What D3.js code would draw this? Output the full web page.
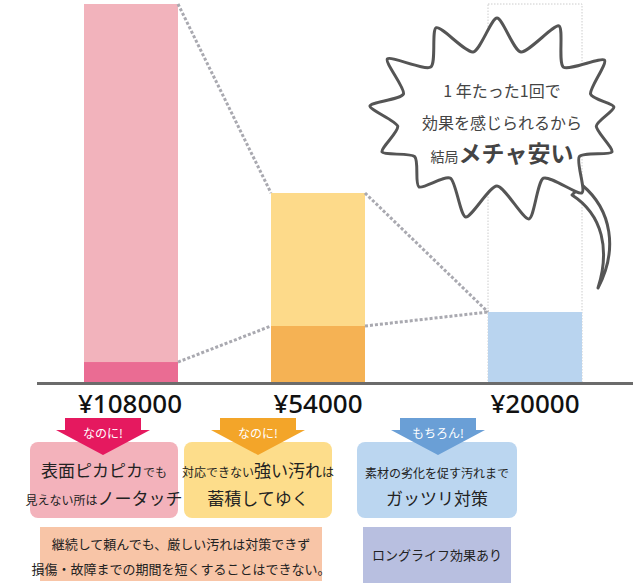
<!DOCTYPE html>
<html><head><meta charset="utf-8">
<script src="https://cdn.jsdelivr.net/npm/d3@7"></script>
<style>
body{margin:0;background:#fff;font-family:"Noto Sans CJK JP",sans-serif;}
</style></head><body><div id="chart"></div>
<script>
const prices = ['¥108000', '¥54000', '¥20000'];
const totals = [108000, 54000, 20000];
const lowerParts = [5700, 16000, 0];
const barColors = ['#f2b3bc', '#fdda8a', '#b9d4ef'];
const lowerColors = ['#ea6c93', '#f5b254', '#b9d4ef'];
const arrowLabels = ['なのに!', 'なのに!', 'もちろん!'];
const arrowColors = ['#e5195f', '#f3a529', '#6a9fd6'];
const boxColors = ['#f3b2bb', '#fddd8b', '#bbd6f0'];

const width = 640, height = 588;
const base = 382;
const svg = d3.select('#chart').append('svg').attr('width', width).attr('height', height);

const xs = [84, 271, 488];
const bw = 94;
const y = d3.scaleLinear().domain([0, 108000]).range([base, 4]);

// dotted outline of third bar
svg.append('rect').attr('x', xs[2]).attr('y', y(108000)).attr('width', bw).attr('height', base - y(108000))
  .attr('fill', 'none').attr('stroke', '#ccc').attr('stroke-dasharray', '1.5,1.5');

totals.forEach((v, i) => {
  svg.append('rect').attr('x', xs[i]).attr('y', y(v)).attr('width', bw).attr('height', base - y(v)).attr('fill', barColors[i]);
  if (lowerParts[i]) svg.append('rect').attr('x', xs[i]).attr('y', y(lowerParts[i])).attr('width', bw)
    .attr('height', base - y(lowerParts[i])).attr('fill', lowerColors[i]);
});

// connectors
const conn = svg.append('g').attr('stroke', '#a9a9b0').attr('stroke-width', 3).attr('stroke-dasharray', '3,2');
for (let i = 0; i < 2; i++) {
  conn.append('line').attr('x1', xs[i] + bw).attr('y1', y(totals[i])).attr('x2', xs[i + 1]).attr('y2', y(totals[i + 1]));
  conn.append('line').attr('x1', xs[i] + bw).attr('y1', y(lowerParts[i])).attr('x2', xs[i + 1])
    .attr('y2', y(lowerParts[i + 1] || totals[i + 1]));
}

svg.append('line').attr('x1', 37).attr('x2', 633).attr('y1', base + 1.5).attr('y2', base + 1.5)
  .attr('stroke', '#6b6b6b').attr('stroke-width', 3);

// speech bubble: tail first, then body
svg.append('path').attr('d', 'M582,185 C612,210 618,250 598,288 C610,250 603,215 572,195 Z')
  .attr('fill', '#fff').attr('stroke', '#555').attr('stroke-width', 3).attr('stroke-linejoin', 'round');
const cx = 497, cy = 118;
const spikes = 13, pts = [];
for (let k = 0; k < spikes * 2; k++) {
  const a = k / (spikes * 2) * Math.PI * 2 - Math.PI / 2;
  const jit = [1, .92, 1.04, .96, 1.02][k % 5];
  const rx = k % 2 ? 100 : 128 * jit, ry = k % 2 ? 68 : 100 * jit;
  pts.push([cx + Math.cos(a) * rx, cy + Math.sin(a) * ry]);
}
svg.append('path').attr('d', d3.line().curve(d3.curveCardinalClosed.tension(0.3))(pts))
  .attr('fill', '#fff').attr('stroke', '#555').attr('stroke-width', 3);
const bub = svg.append('g').attr('fill', '#444').attr('text-anchor', 'middle');
bub.append('text').attr('x', 502).attr('y', 97).attr('font-size', 16).text('1 年たった1回で');
bub.append('text').attr('x', 502).attr('y', 129).attr('font-size', 16).text('効果を感じられるから');
bub.append('text').attr('x', 502).attr('y', 162).html('<tspan font-size="14">結局</tspan><tspan font-size="23" font-weight="bold">メチャ安い</tspan>');

// price labels
prices.forEach((p, i) => {
  svg.append('text').attr('x', [130, 318, 535][i]).attr('y', 413).attr('text-anchor', 'middle')
    .attr('font-size', 26).attr('font-weight', 500).attr('font-family', 'Noto Sans, sans-serif').attr('fill', '#111').text(p);
});

// boxes and arrows
const boxX = [30, 184, 357], boxW = [148, 148, 160], arrC = [103, 258, 438];
boxX.forEach((bx, i) => {
  svg.append('rect').attr('x', bx).attr('y', 442).attr('width', boxW[i]).attr('height', 76).attr('rx', 8).attr('fill', boxColors[i]);
  const c = arrC[i];
  svg.append('path').attr('d', `M${c - 38},418 H${c + 38} V430 H${c + 47} L${c},455 L${c - 47},430 H${c - 38} Z`).attr('fill', arrowColors[i]);
  svg.append('text').attr('x', c).attr('y', 438).attr('text-anchor', 'middle').attr('font-size', 12).attr('fill', '#fff').text(arrowLabels[i]);
});
svg.append('rect').attr('x', 40).attr('y', 527).attr('width', 282).attr('height', 54).attr('fill', '#f8c5a7');
svg.append('rect').attr('x', 363).attr('y', 527).attr('width', 148).attr('height', 56).attr('fill', '#b8bfe0');

const t = svg.append('g').attr('fill', '#222').attr('text-anchor', 'middle');
t.append('text').attr('x', 104).attr('y', 477).html('<tspan font-size="17">表面ピカピカ</tspan><tspan font-size="12">でも</tspan>');
t.append('text').attr('x', 104).attr('y', 505).html('<tspan font-size="12">見えない所は</tspan><tspan font-size="17">ノータッチ</tspan>');
t.append('text').attr('x', 258).attr('y', 477).html('<tspan font-size="12">対応できない</tspan><tspan font-size="17">強い汚れ</tspan><tspan font-size="12">は</tspan>');
t.append('text').attr('x', 258).attr('y', 505).attr('font-size', 17).text('蓄積してゆく');
t.append('text').attr('x', 437).attr('y', 478).attr('font-size', 12).text('素材の劣化を促す汚れまで');
t.append('text').attr('x', 437).attr('y', 505).attr('font-size', 17).text('ガッツリ対策');
t.append('text').attr('x', 181).attr('y', 549).attr('font-size', 13).text('継続して頼んでも、厳しい汚れは対策できず');
t.append('text').attr('x', 181).attr('y', 574).attr('font-size', 13).text('損傷・故障までの期間を短くすることはできない。');
t.append('text').attr('x', 437).attr('y', 560).attr('font-size', 13).text('ロングライフ効果あり');
</script></body></html>
